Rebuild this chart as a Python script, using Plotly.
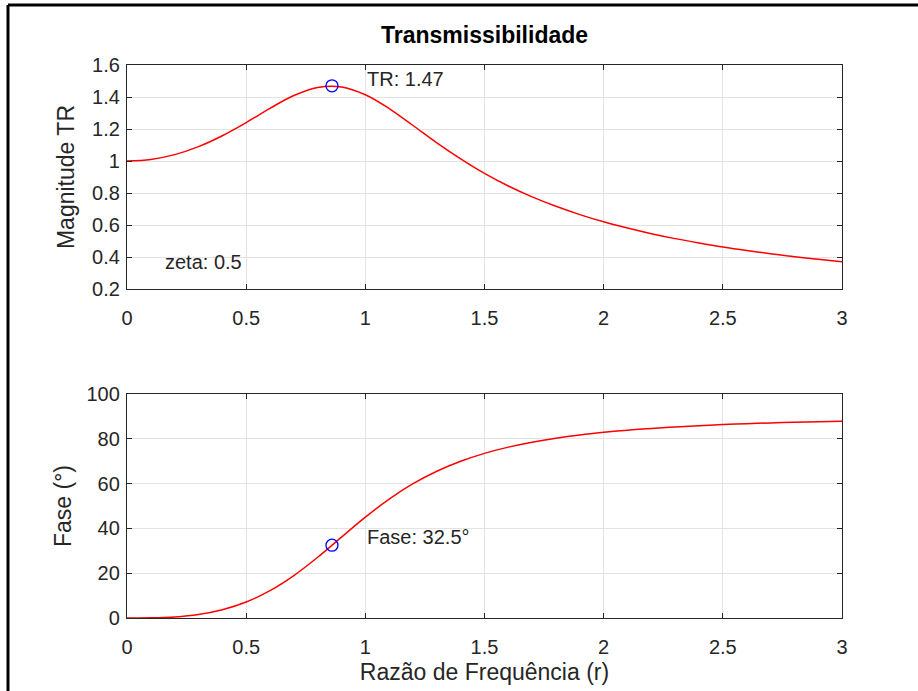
import plotly.graph_objects as go

# ---- data ----
r_vals = [0.0, 0.1, 0.2, 0.3, 0.4, 0.5, 0.6, 0.7, 0.8, 0.9, 1.0,
          1.1, 1.2, 1.3, 1.4, 1.5, 1.6, 1.7, 1.8, 1.9, 2.0,
          2.1, 2.2, 2.3, 2.4, 2.5, 2.6, 2.7, 2.8, 2.9, 3.0]
tr_vals = [1.000, 1.010, 1.040, 1.090, 1.158, 1.240, 1.329, 1.409, 1.460, 1.463, 1.414,
           1.328, 1.222, 1.114, 1.014, 0.923, 0.844, 0.776, 0.717, 0.665, 0.620,
           0.581, 0.546, 0.515, 0.488, 0.463, 0.441, 0.421, 0.402, 0.386, 0.370]
phase_vals = [0.0, 0.06, 0.46, 1.55, 3.66, 7.13, 12.19, 18.93, 27.11, 36.09, 45.0,
              53.08, 59.94, 65.53, 69.97, 73.50, 76.28, 78.49, 80.27, 81.71, 82.87,
              83.84, 84.63, 85.30, 85.86, 86.34, 86.74, 87.09, 87.39, 87.65, 87.88]

peak_r = [0.86]
peak_tr = [1.47]
peak_phase = [32.5]

x_ticks = [0, 0.5, 1, 1.5, 2, 2.5, 3]
x_ticktext = ["0", "0.5", "1", "1.5", "2", "2.5", "3"]
y1_ticks = [0.2, 0.4, 0.6, 0.8, 1.0, 1.2, 1.4, 1.6]
y1_ticktext = ["0.2", "0.4", "0.6", "0.8", "1", "1.2", "1.4", "1.6"]
y2_ticks = [0, 20, 40, 60, 80, 100]
y2_ticktext = ["0", "20", "40", "60", "80", "100"]

FONT = "Liberation Sans, Arial, Helvetica, sans-serif"
TXT = "#262626"
RED = "#ff0000"
BLUE = "#0000ff"

fig = go.Figure()
fig.add_trace(go.Scatter(x=r_vals, y=tr_vals, mode="lines", line=dict(color=RED, width=1.5, shape="spline"),
                         xaxis="x", yaxis="y", showlegend=False))
fig.add_trace(go.Scatter(x=peak_r, y=peak_tr, mode="markers",
                         marker=dict(symbol="circle-open", size=12, color=BLUE, line=dict(width=1.3, color=BLUE)),
                         xaxis="x", yaxis="y", showlegend=False))
fig.add_trace(go.Scatter(x=r_vals, y=phase_vals, mode="lines", line=dict(color=RED, width=1.5, shape="spline"),
                         xaxis="x2", yaxis="y2", showlegend=False))
fig.add_trace(go.Scatter(x=peak_r, y=peak_phase, mode="markers",
                         marker=dict(symbol="circle-open", size=12, color=BLUE, line=dict(width=1.3, color=BLUE)),
                         xaxis="x2", yaxis="y2", showlegend=False))

axis_common = dict(showline=True, linecolor=TXT, linewidth=1.3, mirror="ticks", ticks="inside",
                   ticklen=5, tickcolor=TXT, showgrid=True, gridcolor="#e3e3e3", gridwidth=1,
                   zeroline=False, tickfont=dict(family=FONT, size=20, color=TXT))

fig.update_layout(
    width=918, height=691,
    margin=dict(l=127, r=76, t=65, b=73),
    paper_bgcolor="white", plot_bgcolor="white",
    font=dict(family=FONT, color=TXT),
    xaxis=dict(domain=[0, 1], range=[0, 3], anchor="y", tickvals=x_ticks, ticktext=x_ticktext,
               ticklabelstandoff=11, **axis_common),
    yaxis=dict(domain=[0.5949, 1], range=[0.2, 1.6], anchor="x", tickvals=y1_ticks, ticktext=y1_ticktext,
               ticklabelstandoff=2,
               title=dict(text="Magnitude TR", font=dict(family=FONT, size=23, color=TXT), standoff=10),
               **axis_common),
    xaxis2=dict(domain=[0, 1], range=[0, 3], anchor="y2", tickvals=x_ticks, ticktext=x_ticktext,
                ticklabelstandoff=11,
                title=dict(text="Razão de Frequência (r)", font=dict(family=FONT, size=23, color=TXT), standoff=6),
                **axis_common),
    yaxis2=dict(domain=[0, 0.4051], range=[0, 100], anchor="x2", tickvals=y2_ticks, ticktext=y2_ticktext,
                ticklabelstandoff=2,
                title=dict(text="Fase (°)", font=dict(family=FONT, size=23, color=TXT), standoff=8),
                **axis_common),
    annotations=[
        dict(text="<b>Transmissibilidade</b>", xref="paper", yref="paper", x=0.5, y=1.0,
             yshift=30, showarrow=False, font=dict(family=FONT, size=23, color="black"),
             xanchor="center", yanchor="middle"),
        dict(text="TR: 1.47", xref="x", yref="y", x=1.0, y=1.51, showarrow=False,
             xanchor="left", yanchor="middle", font=dict(family=FONT, size=20, color=TXT)),
        dict(text="zeta: 0.5", xref="x", yref="y", x=0.15, y=0.37, showarrow=False,
             xanchor="left", yanchor="middle", font=dict(family=FONT, size=20, color=TXT)),
        dict(text="Fase: 32.5°", xref="x2", yref="y2", x=1.0, y=36.2, showarrow=False,
             xanchor="left", yanchor="middle", font=dict(family=FONT, size=20, color=TXT)),
    ],
    shapes=[
        dict(type="line", xref="paper", yref="paper", x0=-0.16643, x1=1.2, y0=1.1085, y1=1.1085,
             line=dict(color="black", width=3)),
        dict(type="line", xref="paper", yref="paper", x0=-0.16643, x1=-0.16643, y0=1.1085, y1=-0.2,
             line=dict(color="black", width=3)),
    ],
)

fig.write_html("out.html")
